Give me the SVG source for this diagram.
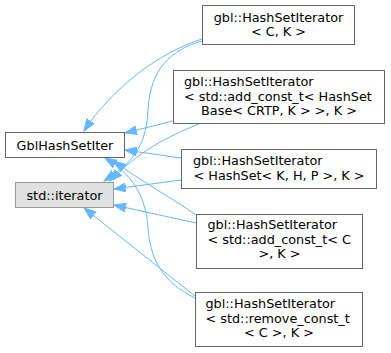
<svg xmlns="http://www.w3.org/2000/svg" width="391" height="353" viewBox="0 0 391 353">
<style>
.n rect{fill:#ffffff;stroke:#666666;stroke-width:1}
.ext rect{fill:#e0e0e0;stroke:#999999}
text{font-family:"DejaVu Sans",sans-serif;font-size:12.8px;fill:#000000}
.m{text-anchor:middle}
#edges path{fill:none;stroke:#63b8ff;stroke-width:1}
</style>
<defs>
<marker id="ah" markerUnits="userSpaceOnUse" markerWidth="14" markerHeight="11" refX="12" refY="4.5" orient="auto">
<path d="M0,0 L12,4.5 L0,9 z" fill="#63b8ff" stroke="#63b8ff" stroke-width="1"/>
</marker>
</defs>
<rect width="391" height="353" fill="#ffffff"/>
<g id="edges">
<path marker-end="url(#ah)" d="M202,39 C160,52 112,88 84,131"/>
<path marker-end="url(#ah)" d="M202,41 C170,50 150,70 148,110 C146,148 132,163 104,181"/>
<path marker-end="url(#ah)" d="M173,121 L125,133"/>
<path marker-end="url(#ah)" d="M199,124 C168,136 138,152 110,181"/>
<path marker-end="url(#ah)" d="M181,158 L125,150"/>
<path marker-end="url(#ah)" d="M181,180 L114,189"/>
<path marker-end="url(#ah)" d="M196,215 C172,198 142,182 114,161"/>
<path marker-end="url(#ah)" d="M196,223 L114,205"/>
<path marker-end="url(#ah)" d="M195,298 C162,282 150,258 148,228 C146,196 132,174 105,158"/>
<path marker-end="url(#ah)" d="M195,296 L84,208"/>
</g>
<g id="GblHashSetIter" class="n">
<rect x="5.5" y="132.5" width="119" height="25"/>
<text class="m" x="65" y="149.5">GblHashSetIter</text>
</g>
<g id="std_iterator" class="n ext">
<rect x="15.5" y="182.5" width="98" height="25"/>
<text class="m" x="64.5" y="199.5">std::iterator</text>
</g>
<g id="node1" class="n">
<rect x="202.5" y="5.5" width="152" height="39"/>
<text class="m" x="278.5" y="21.5">gbl::HashSetIterator</text>
<text class="m" x="278.5" y="36">&lt; C, K &gt;</text>
</g>
<g id="node2" class="n">
<rect x="173.5" y="70.5" width="211" height="53"/>
<text x="184" y="86">gbl::HashSetIterator</text>
<text x="184" y="100.5">&lt; std::add_const_t&lt; HashSet</text>
<text class="m" x="279" y="115">Base&lt; CRTP, K &gt; &gt;, K &gt;</text>
</g>
<g id="node3" class="n">
<rect x="181.5" y="149.5" width="195" height="39"/>
<text x="193" y="165">gbl::HashSetIterator</text>
<text class="m" x="279" y="179.5">&lt; HashSet&lt; K, H, P &gt;, K &gt;</text>
</g>
<g id="node4" class="n">
<rect x="196.5" y="214.5" width="166" height="54"/>
<text x="207.5" y="229">gbl::HashSetIterator</text>
<text x="207.5" y="243.5">&lt; std::add_const_t&lt; C</text>
<text class="m" x="279.5" y="258">&gt;, K &gt;</text>
</g>
<g id="node5" class="n">
<rect x="195.5" y="292.5" width="167" height="54"/>
<text x="205.5" y="308">gbl::HashSetIterator</text>
<text x="205.5" y="322.5">&lt; std::remove_const_t</text>
<text class="m" x="279" y="337">&lt; C &gt;, K &gt;</text>
</g>
</svg>
